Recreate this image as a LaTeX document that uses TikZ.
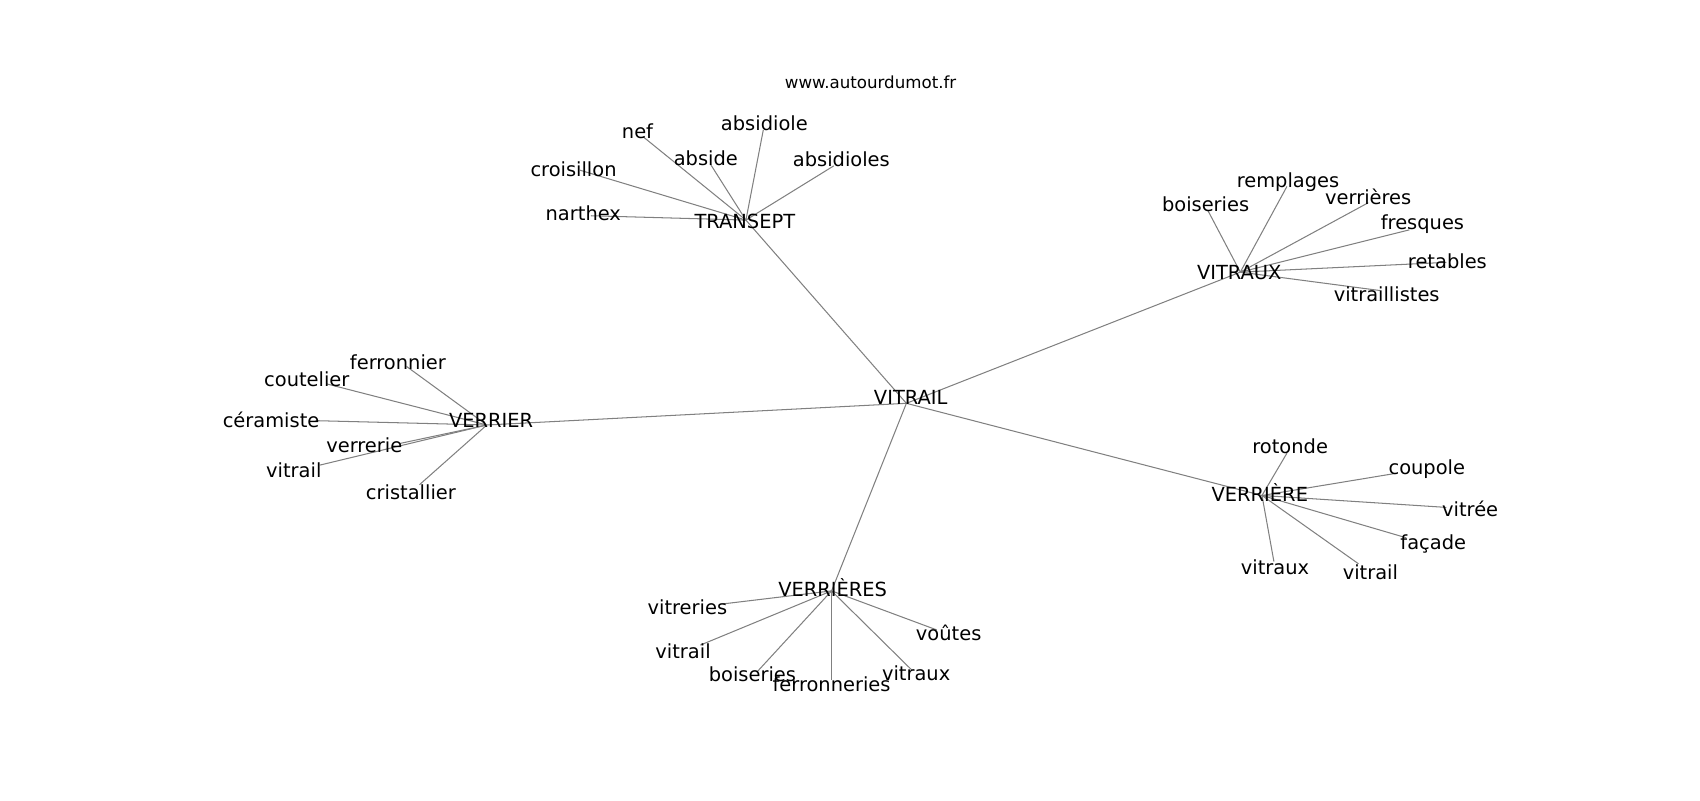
\documentclass[tikz,border=0pt]{standalone}
\usepackage{fontspec}
\setmainfont{DejaVu Sans}
\usetikzlibrary{positioning}

\begin{document}
\begin{tikzpicture}[x=0.010842in,y=-0.010842in,
            word/.style={inner sep=0pt,font=\fontsize{14bp}{16bp}\selectfont},
            site/.style={inner sep=0pt,font=\fontsize{12bp}{14bp}\selectfont},
            every edge/.style={draw=gray,line width=0.75pt}]
            \useasboundingbox (0,0) rectangle (1568,738);

            % graph points
            \coordinate (vitrail) at (836,372);
            \coordinate (transept) at (688,203);
            \coordinate (vitraux) at (1144,251);
            \coordinate (verrier) at (449,392);
            \coordinate (verriere) at (1164,457);
            \coordinate (verrieres) at (767,545);

            \coordinate (nef) at (593,126);
            \coordinate (abside) at (655,151);
            \coordinate (absidiole) at (704,120);
            \coordinate (absidioles) at (769,153);
            \coordinate (croisillon) at (535,157);
            \coordinate (narthex) at (545,199);

            \coordinate (boiseriesA) at (1114,194);
            \coordinate (remplages) at (1187,172);
            \coordinate (verrieresA) at (1262,187);
            \coordinate (fresques) at (1300,212);
            \coordinate (retables) at (1334,242);
            \coordinate (vitraillistes) at (1273,268);

            \coordinate (ferronnier) at (375,338);
            \coordinate (coutelier) at (301,354);
            \coordinate (ceramiste) at (291,388);
            \coordinate (verrerie) at (369,409);
            \coordinate (vitrailA) at (295,429);
            \coordinate (cristallier) at (387,447);

            \coordinate (rotonde) at (1187,418);
            \coordinate (coupole) at (1285,437);
            \coordinate (vitree) at (1334,468);
            \coordinate (facade) at (1297,496);
            \coordinate (vitrailB) at (1253,520);
            \coordinate (vitrauxB) at (1175,518);

            \coordinate (vitreries) at (667,557);
            \coordinate (vitrailC) at (646,595);
            \coordinate (boiseriesC) at (698,620);
            \coordinate (ferronneries) at (767,627);
            \coordinate (vitrauxC) at (841,618);
            \coordinate (voutes) at (864,581);

            \path (vitrail) edge (transept)
                  (vitrail) edge (vitraux)
                  (vitrail) edge (verrier)
                  (vitrail) edge (verriere)
                  (vitrail) edge (verrieres)
                  (transept) edge (nef)
                  (transept) edge (abside)
                  (transept) edge (absidiole)
                  (transept) edge (absidioles)
                  (transept) edge (croisillon)
                  (transept) edge (narthex)
                  (vitraux) edge (boiseriesA)
                  (vitraux) edge (remplages)
                  (vitraux) edge (verrieresA)
                  (vitraux) edge (fresques)
                  (vitraux) edge (retables)
                  (vitraux) edge (vitraillistes)
                  (verrier) edge (ferronnier)
                  (verrier) edge (coutelier)
                  (verrier) edge (ceramiste)
                  (verrier) edge (verrerie)
                  (verrier) edge (vitrailA)
                  (verrier) edge (cristallier)
                  (verriere) edge (rotonde)
                  (verriere) edge (coupole)
                  (verriere) edge (vitree)
                  (verriere) edge (facade)
                  (verriere) edge (vitrailB)
                  (verriere) edge (vitrauxB)
                  (verrieres) edge (vitreries)
                  (verrieres) edge (vitrailC)
                  (verrieres) edge (boiseriesC)
                  (verrieres) edge (ferronneries)
                  (verrieres) edge (vitrauxC)
                  (verrieres) edge (voutes);

            % labels
            \node[site] (site) at (803,76) {www.autourdumot.fr};

            \node[word] (t-vitrail) at (840,367) {VITRAIL};
            \node[word] (t-transept) at (687,204) {TRANSEPT};
            \node[word] (t-vitraux) at (1143,251) {VITRAUX};
            \node[word] (t-verrier) at (453,388) {VERRIER};
            \node[word] (t-verriere) at (1162,454) {VERRIÈRE};
            \node[word] (t-verrieres) at (768,542) {VERRIÈRES};

            \node[word] (t-nef) at (588,121) {nef};
            \node[word] (t-abside) at (651,146) {abside};
            \node[word] (t-absidiole) at (705,114) {absidiole};
            \node[word] (t-absidioles) at (776,147) {absidioles};
            \node[word] (t-croisillon) at (529,156) {croisillon};
            \node[word] (t-narthex) at (538,197) {narthex};

            \node[word] (t-boiseriesA) at (1112,188) {boiseries};
            \node[word] (t-remplages) at (1188,168) {remplages};
            \node[word] (t-verrieresA) at (1262,182) {verrières};
            \node[word] (t-fresques) at (1312,207) {fresques};
            \node[word] (t-retables) at (1335,241) {retables};
            \node[word] (t-vitraillistes) at (1279,271) {vitraillistes};

            \node[word] (t-ferronnier) at (367,334) {ferronnier};
            \node[word] (t-coutelier) at (283,350) {coutelier};
            \node[word] (t-ceramiste) at (250,387) {céramiste};
            \node[word] (t-verrerie) at (336,411) {verrerie};
            \node[word] (t-vitrailA) at (271,434) {vitrail};
            \node[word] (t-cristallier) at (379,454) {cristallier};

            \node[word] (t-rotonde) at (1190,412) {rotonde};
            \node[word] (t-coupole) at (1316,433) {coupole};
            \node[word] (t-vitree) at (1356,469) {vitrée};
            \node[word] (t-facade) at (1322,502) {façade};
            \node[word] (t-vitrailB) at (1264,528) {vitrail};
            \node[word] (t-vitrauxB) at (1176,523) {vitraux};

            \node[word] (t-vitreries) at (634,560) {vitreries};
            \node[word] (t-vitrailC) at (630,601) {vitrail};
            \node[word] (t-boiseriesC) at (694,622) {boiseries};
            \node[word] (t-ferronneries) at (767,631) {ferronneries};
            \node[word] (t-vitrauxC) at (845,621) {vitraux};
            \node[word] (t-voutes) at (875,584) {voûtes};
        \end{tikzpicture}
\end{document}
